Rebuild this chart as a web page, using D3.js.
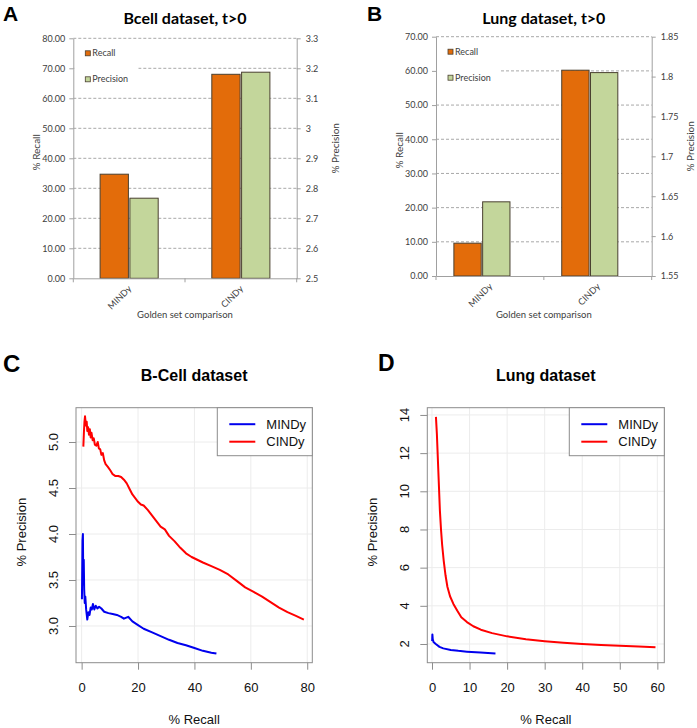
<!DOCTYPE html>
<html>
<head>
<meta charset="utf-8">
<script src="https://cdn.jsdelivr.net/npm/d3@7"></script>
<style>
  body { margin: 0; background: #fff; }
  svg { display: block; }
</style>
</head>
<body>
<svg id="fig" width="697" height="728"></svg>
<script>
// ---- bar panels (A, B) ----
const barCategories = ['MINDy', 'CINDy'];
const barSeries = ['Recall', 'Precision'];
const bcellRecall = [34.7, 68.0];
const bcellPrecision = [2.767, 3.187];
const lungRecall = [9.6, 60.2];
const lungPrecision = [1.643, 1.805];
const bcellRecallTicks = [0, 10, 20, 30, 40, 50, 60, 70, 80];
const bcellPrecisionTicks = [2.5, 2.6, 2.7, 2.8, 2.9, 3, 3.1, 3.2, 3.3];
const lungRecallTicks = [0, 10, 20, 30, 40, 50, 60, 70];
const lungPrecisionTicks = [1.55, 1.6, 1.65, 1.7, 1.75, 1.8, 1.85];

// ---- precision/recall curves (C, D) ----
const bcellCindy = [
  [0.6, 4.95], [0.8, 5.10], [1.0, 5.22], [1.2, 5.28], [1.5, 5.18], [1.8, 5.22], [2.0, 5.12],
  [2.3, 5.16], [2.6, 5.08], [2.9, 5.14], [3.2, 5.05], [3.5, 5.10], [3.9, 5.02], [4.3, 5.04],
  [4.7, 4.97], [5.2, 4.96], [5.7, 5.00], [6.1, 4.93], [6.6, 4.92], [7.0, 4.86], [7.5, 4.88],
  [8.0, 4.80], [8.5, 4.76], [9.3, 4.73], [10.2, 4.69], [11.0, 4.65], [12.0, 4.63], [13.0, 4.63],
  [14.0, 4.62], [15.0, 4.59], [16.0, 4.55], [17.0, 4.49], [18.0, 4.43], [19.0, 4.39], [20.0, 4.35],
  [21.0, 4.32], [22.0, 4.31], [23.5, 4.26], [25.0, 4.20], [26.5, 4.14], [28.0, 4.08], [29.5, 4.05],
  [31.0, 3.98], [33.0, 3.92], [35.0, 3.85], [37.0, 3.79], [39.0, 3.75], [41.0, 3.72], [43.0, 3.69],
  [46.0, 3.65], [49.0, 3.61], [52.0, 3.56], [55.0, 3.49], [58.0, 3.42], [61.0, 3.37], [64.0, 3.32],
  [67.0, 3.26], [70.0, 3.20], [73.0, 3.15], [76.0, 3.11], [78.8, 3.07]
];
const bcellMindy = [
  [0.1, 3.29], [0.2, 3.60], [0.3, 3.93], [0.45, 4.00], [0.55, 3.60], [0.65, 3.45], [0.75, 3.72],
  [0.9, 3.40], [1.1, 3.25], [1.3, 3.32], [1.6, 3.18], [2.0, 3.07], [2.4, 3.15], [2.8, 3.12],
  [3.2, 3.20], [3.6, 3.18], [4.0, 3.24], [4.5, 3.18], [5.0, 3.22], [5.6, 3.19], [6.2, 3.21],
  [7.0, 3.19], [8.0, 3.155], [9.5, 3.14], [11.0, 3.13], [12.5, 3.12], [14.0, 3.10], [15.0, 3.08],
  [16.5, 3.10], [18.0, 3.05], [20.0, 3.01], [22.0, 2.97], [25.0, 2.93], [28.0, 2.89], [31.0, 2.85],
  [34.0, 2.815], [37.0, 2.79], [40.0, 2.76], [43.0, 2.73], [46.0, 2.71], [47.8, 2.70]
];
const lungCindy = [
  [1.05, 13.9], [1.3, 13.0], [1.5, 12.0], [1.7, 11.0], [1.9, 10.0], [2.1, 9.0], [2.4, 8.0],
  [2.7, 7.2], [3.1, 6.4], [3.6, 5.6], [4.1, 5.0], [4.8, 4.5], [5.7, 4.1], [6.7, 3.75], [7.8, 3.4],
  [9.3, 3.15], [11, 2.93], [13, 2.75], [16, 2.57], [20, 2.40], [25, 2.25], [30, 2.15], [35, 2.07],
  [40, 2.00], [45, 1.95], [50, 1.91], [55, 1.87], [59.5, 1.83]
];
const lungMindy = [
  [0.05, 2.15], [0.1, 2.50], [0.2, 2.25], [0.4, 2.10], [1.0, 2.00], [2.0, 1.85], [3.0, 1.77],
  [5.0, 1.69], [7.0, 1.64], [9.3, 1.60], [12.9, 1.55], [16.9, 1.50]
];
const bcellXTicks = [0, 20, 40, 60, 80];
const bcellYTicks = [3.0, 3.5, 4.0, 4.5, 5.0];
const lungXTicks = [0, 10, 20, 30, 40, 50, 60];
const lungYTicks = [2, 4, 6, 8, 10, 12, 14];
const curveNames = ['MINDy', 'CINDy'];
const curveColors = ['#0000ee', '#ff0000'];

const svg = d3.select('#fig');
const excelFont = 'Lato, "Open Sans", sans-serif';
const rFont = '"Liberation Sans", Arial, sans-serif';

function panelLetter(x, y, txt, size) {
  svg.append('text').attr('x', x).attr('y', y).text(txt)
    .attr('font-family', rFont).attr('font-weight', 'bold').attr('font-size', size);
}

function styleAxis(sel) {
  sel.select('.domain').attr('stroke', '#a0a0a0');
  sel.selectAll('.tick line').attr('stroke', '#a0a0a0');
  sel.selectAll('.tick text').attr('fill', '#404040').attr('font-family', excelFont).attr('font-size', 9);
}

function barPanel(o) {
  const g = svg.append('g');
  const x = d3.scaleBand().domain(barCategories).range([o.left, o.right]);
  const inner = d3.scaleBand().domain(barSeries)
    .range([x.bandwidth() * 0.24, x.bandwidth() * 0.76]).paddingInner(0.05);
  const yL = d3.scaleLinear().domain(d3.extent(o.recallTicks)).range([o.bottom, o.top]);
  const yR = d3.scaleLinear().domain(d3.extent(o.precTicks)).range([o.bottom, o.top]);

  g.selectAll('line.grid').data(o.recallTicks.slice(1)).join('line')
    .attr('class', 'grid')
    .attr('x1', o.left).attr('x2', o.right)
    .attr('y1', (d) => yL(d)).attr('y2', (d) => yL(d))
    .attr('stroke', '#a8a8a8').attr('stroke-dasharray', '3,2');

  // legend sits on a white patch over the grid
  g.append('rect').attr('x', o.left + 1).attr('y', o.top + 4)
    .attr('width', o.legendW).attr('height', 52).attr('fill', '#fff');
  barSeries.forEach((s, i) => {
    const ly = o.top + 15 + i * 26;
    g.append('rect').attr('x', o.left + 12).attr('y', ly - 2.5).attr('width', 5).attr('height', 5)
      .attr('fill', o.colors[i]).attr('stroke', '#4a4030').attr('stroke-width', 0.8);
    g.append('text').attr('x', o.left + 19).attr('y', ly).attr('dy', '0.35em').text(s)
      .attr('fill', '#404040').attr('font-family', excelFont).attr('font-size', 9);
  });

  const rows = barCategories.map((c, i) => ({ cat: c, values: [o.recall[i], o.prec[i]] }));
  const scales = [yL, yR];
  rows.forEach((row) => {
    row.values.forEach((v, j) => {
      const sc = scales[j];
      g.append('rect')
        .attr('x', x(row.cat) + inner(barSeries[j]) + o.shift)
        .attr('y', sc(v))
        .attr('width', inner.bandwidth())
        .attr('height', o.bottom - sc(v))
        .attr('fill', o.colors[j])
        .attr('stroke', '#4a4030').attr('stroke-width', 1);
    });
  });

  const ax = g.append('g').attr('transform', `translate(${o.left},0)`)
    .call(d3.axisLeft(yL).tickValues(o.recallTicks).tickFormat(d3.format('.2f')).tickSize(4).tickSizeOuter(0).tickPadding(4));
  styleAxis(ax);
  const ar = g.append('g').attr('transform', `translate(${o.right},0)`)
    .call(d3.axisRight(yR).tickValues(o.precTicks).tickFormat((d) => String(+d.toFixed(2))).tickSize(4).tickSizeOuter(0).tickPadding(5));
  styleAxis(ar);

  const ab = g.append('g').attr('transform', `translate(0,${o.bottom})`)
    .call(d3.axisBottom(x).tickSize(0).tickSizeOuter(0));
  styleAxis(ab);
  ab.selectAll('.tick text').attr('text-anchor', 'end').attr('y', 0).attr('dy', 0)
    .attr('transform', 'translate(3,11) rotate(-45)');
  const bounds = [o.left].concat(barCategories.map((c) => x(c) + x.bandwidth()));
  g.selectAll('line.xt').data(bounds).join('line').attr('class', 'xt')
    .attr('x1', (d) => d).attr('x2', (d) => d)
    .attr('y1', o.bottom).attr('y2', o.bottom + 4).attr('stroke', '#a0a0a0');

  g.append('text').attr('x', (o.left + o.right) / 2).attr('y', 24).attr('text-anchor', 'middle')
    .text(o.title).attr('font-family', excelFont).attr('font-weight', 'bold').attr('font-size', 16);
  g.append('text').attr('x', (o.left + o.right) / 2).attr('y', 318).attr('text-anchor', 'middle')
    .text('Golden set comparison').attr('fill', '#404040').attr('font-family', excelFont).attr('font-size', 9.5);
  const midY = (o.top + o.bottom) / 2 - 6;
  g.append('text').attr('transform', `translate(${o.left - 33},${midY}) rotate(-90)`)
    .attr('text-anchor', 'middle').text('% Recall')
    .attr('fill', '#404040').attr('font-family', excelFont).attr('font-size', 10);
  g.append('text').attr('transform', `translate(${o.right + 42},${midY - 4}) rotate(-90)`)
    .attr('text-anchor', 'middle').text('% Precision')
    .attr('fill', '#404040').attr('font-family', excelFont).attr('font-size', 10);
}

function linePanel(o) {
  const g = svg.append('g');
  const x = d3.scaleLinear().domain(o.xDomain).range([o.left, o.right]);
  const y = d3.scaleLinear().domain(o.yDomain).range([o.bottom, o.top]);

  g.selectAll('line.gx').data(o.xTicks).join('line').attr('class', 'gx')
    .attr('x1', (d) => x(d)).attr('x2', (d) => x(d)).attr('y1', o.top).attr('y2', o.bottom)
    .attr('stroke', '#ececec');
  g.selectAll('line.gy').data(o.yTicks).join('line').attr('class', 'gy')
    .attr('x1', o.left).attr('x2', o.right).attr('y1', (d) => y(d)).attr('y2', (d) => y(d))
    .attr('stroke', '#ececec');

  const line = d3.line().x((d) => x(d[0])).y((d) => y(d[1]));
  o.series.forEach((s, i) => {
    g.append('path').datum(s).attr('d', line).attr('fill', 'none')
      .attr('stroke', curveColors[i]).attr('stroke-width', 2).attr('stroke-linejoin', 'round');
  });

  g.append('rect').attr('x', o.left).attr('y', o.top)
    .attr('width', o.right - o.left).attr('height', o.bottom - o.top)
    .attr('fill', 'none').attr('stroke', '#8c8c8c');

  const ax = g.append('g').attr('transform', `translate(0,${o.bottom})`)
    .call(d3.axisBottom(x).tickValues(o.xTicks).tickFormat(d3.format('d')).tickSize(7).tickPadding(13));
  ax.select('.domain').remove();
  ax.selectAll('.tick line').attr('stroke', '#8c8c8c');
  ax.selectAll('.tick text').attr('fill', '#111').attr('font-family', rFont).attr('font-size', 13);

  const ay = g.append('g').attr('transform', `translate(${o.left},0)`)
    .call(d3.axisLeft(y).tickValues(o.yTicks).tickSize(7));
  ay.select('.domain').remove();
  ay.selectAll('.tick line').attr('stroke', '#8c8c8c');
  ay.selectAll('.tick text').remove();
  g.selectAll('text.ytl').data(o.yTicks).join('text').attr('class', 'ytl')
    .attr('transform', (d) => `translate(${o.left - 18},${y(d)}) rotate(-90)`)
    .attr('text-anchor', 'middle').text(o.yFormat)
    .attr('fill', '#111').attr('font-family', rFont).attr('font-size', 13);

  // legend
  const lx = o.right - 95;
  g.append('rect').attr('x', lx).attr('y', o.top).attr('width', 95).attr('height', 48)
    .attr('fill', '#fff').attr('stroke', '#8c8c8c');
  curveNames.forEach((n, i) => {
    const ly = o.top + 16.5 + i * 17.5;
    g.append('line').attr('x1', lx + 12).attr('x2', lx + 38).attr('y1', ly).attr('y2', ly)
      .attr('stroke', curveColors[i]).attr('stroke-width', 2);
    g.append('text').attr('x', lx + 49).attr('y', ly).attr('dy', '0.36em').text(n)
      .attr('fill', '#111').attr('font-family', rFont).attr('font-size', 13);
  });

  const cx = (o.left + o.right) / 2;
  g.append('text').attr('x', cx).attr('y', 380.5).attr('text-anchor', 'middle').text(o.title)
    .attr('font-family', rFont).attr('font-weight', 'bold').attr('font-size', 16);
  g.append('text').attr('x', cx).attr('y', 724).attr('text-anchor', 'middle').text('% Recall')
    .attr('fill', '#111').attr('font-family', rFont).attr('font-size', 13);
  g.append('text').attr('transform', `translate(${o.left - 50},${(o.top + o.bottom) / 2 - 3}) rotate(-90)`)
    .attr('text-anchor', 'middle').text('% Precision')
    .attr('fill', '#111').attr('font-family', rFont).attr('font-size', 13);
}

const barColors = ['#e36c0a', '#c3d69b'];

barPanel({
  left: 73.3, right: 296.7, top: 38.3, bottom: 278.3, shift: 0, legendW: 64,
  title: 'Bcell dataset, t>0', recall: bcellRecall, prec: bcellPrecision,
  recallTicks: bcellRecallTicks, precTicks: bcellPrecisionTicks, colors: barColors
});
barPanel({
  left: 436, right: 651.7, top: 36.7, bottom: 276, shift: -8, legendW: 63,
  title: 'Lung dataset, t>0', recall: lungRecall, prec: lungPrecision,
  recallTicks: lungRecallTicks, precTicks: lungPrecisionTicks, colors: barColors
});
linePanel({
  left: 76, right: 312.3, top: 407.7, bottom: 662.7,
  xDomain: [-2.0, 81.8], yDomain: [2.601, 5.373],
  xTicks: bcellXTicks, yTicks: bcellYTicks, yFormat: d3.format('.1f'),
  title: 'B-Cell dataset', series: [bcellMindy, bcellCindy]
});
linePanel({
  left: 427.3, right: 664.3, top: 407.7, bottom: 662.7,
  xDomain: [-1.25, 61.85], yDomain: [1.02, 14.38],
  xTicks: lungXTicks, yTicks: lungYTicks, yFormat: d3.format('d'),
  title: 'Lung dataset', series: [lungMindy, lungCindy]
});

panelLetter(3, 21, 'A', 21);
panelLetter(367, 21, 'B', 21);
panelLetter(3, 372, 'C', 24);
panelLetter(378, 371, 'D', 23);
</script>
</body>
</html>
